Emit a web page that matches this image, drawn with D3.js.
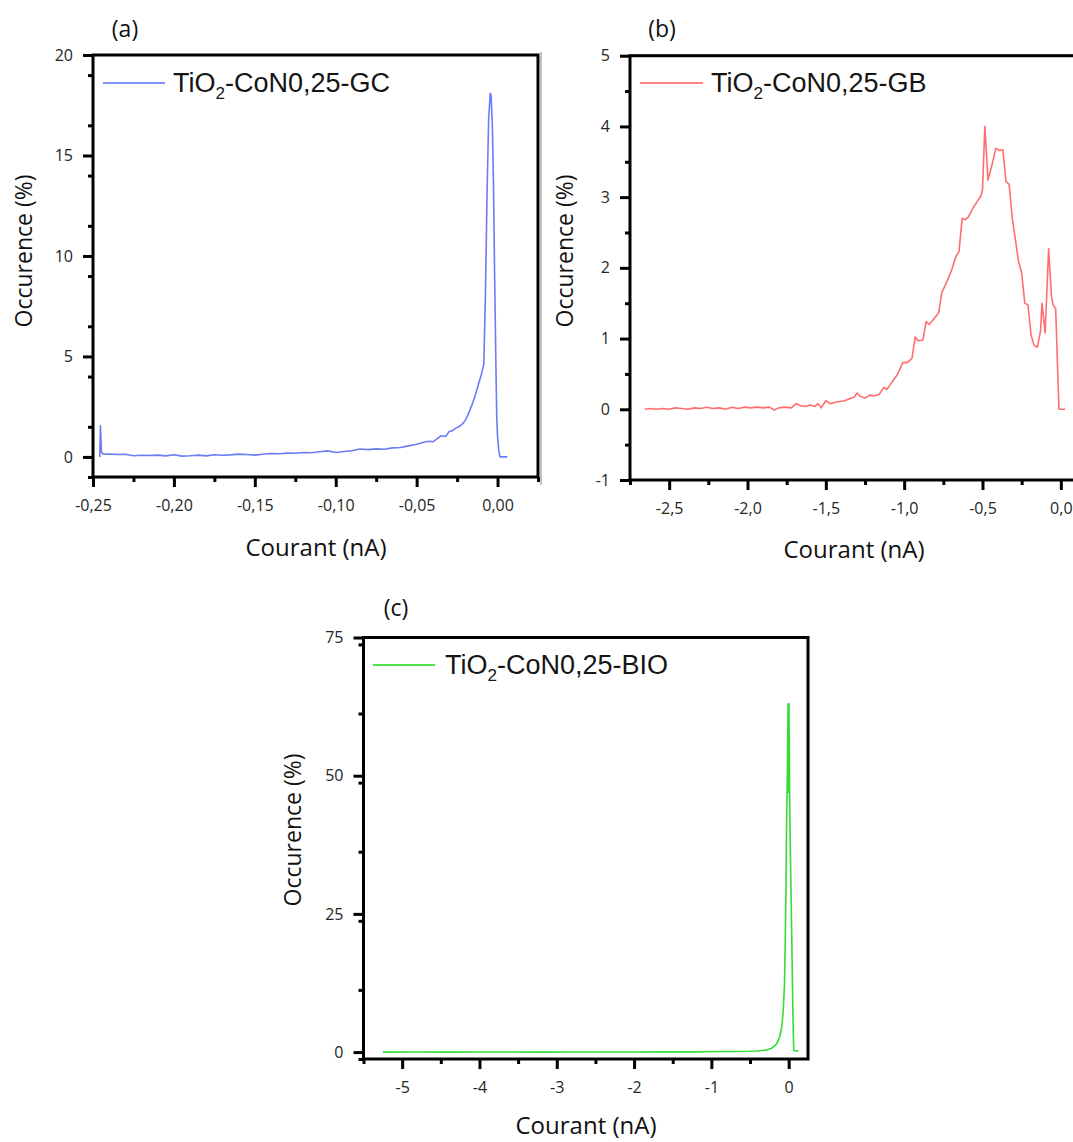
<!DOCTYPE html>
<html><head><meta charset="utf-8">
<script src="https://cdn.jsdelivr.net/npm/d3@7"></script>
<style>
html,body{margin:0;padding:0;background:#fff;overflow:hidden}
svg{display:block}
</style></head>
<body>
<svg id="c" width="1073" height="1142"></svg>
<script>
// ---------- data ----------
const xA = [-0.2458,-0.2454,-0.2448,-0.2440,-0.2400,-0.2350,-0.2300,-0.2250,-0.2200,-0.2150,-0.2100,-0.2050,-0.2000,-0.1950,-0.1900,-0.1850,-0.1800,-0.1750,-0.1700,-0.1650,-0.1600,-0.1550,-0.1500,-0.1450,-0.1400,-0.1350,-0.1300,-0.1250,-0.1200,-0.1150,-0.1100,-0.1050,-0.1000,-0.0950,-0.0900,-0.0850,-0.0800,-0.0750,-0.0700,-0.0650,-0.0600,-0.0550,-0.0500,-0.0450,-0.0420,-0.0400,-0.0370,-0.0350,-0.0320,-0.0300,-0.0280,-0.0260,-0.0240,-0.0220,-0.0200,-0.0180,-0.0160,-0.0140,-0.0120,-0.0100,-0.0085,-0.0075,-0.0065,-0.0055,-0.0045,-0.0040,-0.0032,-0.0025,-0.0018,-0.0010,-0.0005,0.0000,0.0008,0.0015,0.0035,0.0060];
const yA = [0.00,1.55,0.25,0.15,0.14,0.12,0.13,0.06,0.08,0.07,0.09,0.05,0.11,0.04,0.06,0.09,0.05,0.11,0.08,0.10,0.14,0.12,0.09,0.13,0.17,0.16,0.19,0.18,0.22,0.21,0.26,0.30,0.22,0.27,0.31,0.39,0.36,0.40,0.38,0.45,0.47,0.55,0.63,0.74,0.78,0.75,0.92,1.05,1.02,1.25,1.30,1.42,1.50,1.62,1.80,2.15,2.55,3.00,3.55,4.10,4.60,8.00,13.0,16.8,18.1,18.0,16.5,13.5,9.0,4.5,2.0,1.0,0.3,0.0,0.0,0.0];

const xB = [-2.656,-2.62,-2.58,-2.54,-2.50,-2.46,-2.42,-2.38,-2.34,-2.30,-2.26,-2.22,-2.18,-2.14,-2.10,-2.06,-2.02,-1.98,-1.94,-1.90,-1.86,-1.83,-1.80,-1.76,-1.72,-1.69,-1.66,-1.63,-1.60,-1.57,-1.55,-1.53,-1.50,-1.47,-1.44,-1.41,-1.38,-1.35,-1.32,-1.30,-1.28,-1.25,-1.22,-1.19,-1.16,-1.13,-1.11,-1.08,-1.05,-1.03,-1.01,-0.98,-0.95,-0.93,-0.91,-0.88,-0.86,-0.84,-0.81,-0.78,-0.76,-0.73,-0.70,-0.67,-0.65,-0.63,-0.61,-0.59,-0.56,-0.53,-0.51,-0.50,-0.485,-0.465,-0.44,-0.415,-0.39,-0.37,-0.35,-0.33,-0.31,-0.29,-0.27,-0.25,-0.23,-0.21,-0.19,-0.17,-0.15,-0.13,-0.12,-0.10,-0.078,-0.06,-0.05,-0.033,-0.012,0.028];
const yB = [0.00,0.01,0.00,0.01,0.00,0.02,0.01,0.00,0.02,0.01,0.03,0.01,0.02,0.00,0.03,0.01,0.03,0.02,0.03,0.02,0.03,-0.01,0.02,0.03,0.02,0.08,0.05,0.04,0.06,0.04,0.08,0.02,0.12,0.08,0.10,0.11,0.12,0.15,0.17,0.23,0.18,0.16,0.20,0.19,0.21,0.31,0.28,0.38,0.47,0.55,0.66,0.66,0.72,1.02,0.97,0.98,1.24,1.20,1.28,1.36,1.65,1.79,1.95,2.16,2.23,2.70,2.68,2.72,2.85,2.95,3.02,3.10,4.00,3.24,3.45,3.69,3.66,3.67,3.22,3.18,2.70,2.40,2.09,1.93,1.50,1.48,1.05,0.90,0.88,1.10,1.50,1.08,2.27,1.60,1.48,1.42,0.00,0.00];

const xC = [-5.25,-4.8,-4.4,-4.0,-3.6,-3.2,-2.8,-2.4,-2.0,-1.6,-1.2,-0.9,-0.7,-0.5,-0.4,-0.3,-0.22,-0.16,-0.12,-0.09,-0.07,-0.055,-0.045,-0.035,-0.028,-0.02,-0.012,-0.008,-0.004,0.0,0.004,0.012,0.022,0.034,0.045,0.055,0.065,0.13];
const yC = [0.00,0.01,0.00,0.01,0.01,0.00,0.01,0.02,0.02,0.03,0.04,0.10,0.12,0.15,0.20,0.35,0.70,1.40,2.60,4.50,7.50,12.0,19.0,30.0,40.0,47.0,57.0,63.0,47.0,60.0,63.0,47.0,36.0,26.0,16.0,7.0,0.3,0.2];

const ticksAx = [-0.25,-0.20,-0.15,-0.10,-0.05,0.00];
const ticksAy = [0,5,10,15,20];
const ticksBx = [-2.5,-2.0,-1.5,-1.0,-0.5,0.0];
const ticksBy = [-1,0,1,2,3,4,5];
const ticksCx = [-5,-4,-3,-2,-1,0];
const ticksCy = [0,25,50,75];

const legendA = ["TiO","2","-CoN0,25-GC"];
const legendB = ["TiO","2","-CoN0,25-GB"];
const legendC = ["TiO","2","-CoN0,25-BIO"];
const xTitle = "Courant (nA)";
const yTitle = "Occurence (%)";

// ---------- drawing ----------
const svg = d3.select("#c");
const FONT = "'Open Sans', sans-serif";

function fmtDec(n){ return d => (d < -1e-9 ? "-" : "") + Math.abs(d).toFixed(n).replace(".", ","); }
function fmtInt(d){ return (d < 0 ? "-" : "") + Math.abs(d); }

// gray separator line (left edge of panel b image)
svg.append("line").attr("x1",541).attr("x2",541).attr("y1",52).attr("y2",485)
  .attr("stroke","#9a9a9a").attr("stroke-width",1.2);

function panel(cfg){
  const x = d3.scaleLinear().domain(cfg.xDom).range(cfg.xRange);
  const y = d3.scaleLinear().domain(cfg.yDom).range(cfg.yRange);
  const g = svg.append("g");
  const x0 = cfg.xRange[0], x1 = cfg.xRange[1], y0 = cfg.yRange[1], y1 = cfg.yRange[0];

  // minor ticks
  const xMinor = d3.range(cfg.xDom[0], cfg.xDom[1] + 1e-9, cfg.xStep/2).filter(v => !cfg.xTicks.some(t => Math.abs(t - v) < 1e-9));
  const yMinor = d3.range(cfg.yDom[0], cfg.yDom[1] + 1e-9, cfg.yStep/2).filter(v => !cfg.yTicks.some(t => Math.abs(t - v) < 1e-9));
  const xa = g.append("g").attr("transform", `translate(0,${y1})`)
    .call(d3.axisBottom(x).tickValues(cfg.xTicks).tickFormat(cfg.fx).tickSize(10).tickPadding(13).tickSizeOuter(0));
  const xm = g.append("g").attr("transform", `translate(0,${y1})`)
    .call(d3.axisBottom(x).tickValues(xMinor).tickFormat("").tickSize(5).tickSizeOuter(0));
  const ya = g.append("g").attr("transform", `translate(${x0},0)`)
    .call(d3.axisLeft(y).tickValues(cfg.yTicks).tickFormat(cfg.fy).tickSize(10).tickPadding(10).tickSizeOuter(0));
  const ym = g.append("g").attr("transform", `translate(${x0},0)`)
    .call(d3.axisLeft(y).tickValues(yMinor).tickFormat("").tickSize(5).tickSizeOuter(0));
  [xa,xm,ya,ym].forEach(a => {
    a.select(".domain").remove();
    a.selectAll(".tick line").attr("stroke","#000").attr("stroke-width",3);
    a.selectAll(".tick text").attr("font-family",FONT).attr("font-size",16).attr("fill","#262626");
  });

  // curve
  const pts = cfg.xs.map((v,i) => [v, cfg.ys[i]]);
  g.append("path").datum(pts)
    .attr("d", d3.line().x(d => x(d[0])).y(d => y(d[1])))
    .attr("fill","none").attr("stroke",cfg.color).attr("stroke-width",1.6).attr("stroke-linejoin","round");

  // frame
  g.append("rect").attr("x",x0).attr("y",y0).attr("width",x1-x0).attr("height",y1-y0)
    .attr("fill","none").attr("stroke","#000").attr("stroke-width",3);

  // legend
  g.append("line").attr("x1",cfg.leg[0]).attr("x2",cfg.leg[1]).attr("y1",cfg.leg[2]).attr("y2",cfg.leg[2])
    .attr("stroke",cfg.color).attr("stroke-width",1.8).attr("opacity",0.85);
  const lt = g.append("text").attr("x",cfg.leg[3]).attr("y",cfg.leg[2]+9)
    .attr("font-family","'Liberation Sans', Arial, sans-serif").attr("font-size",27).attr("fill","#151515");
  lt.append("tspan").text(cfg.legText[0]);
  lt.append("tspan").attr("font-size",17).attr("dy",7).text(cfg.legText[1]);
  lt.append("tspan").attr("dy",-7).text(cfg.legText[2]);

  // panel label
  g.append("text").attr("x",cfg.lab[0]).attr("y",cfg.lab[1]).attr("text-anchor","middle")
    .attr("font-family",FONT).attr("font-size",23).attr("fill","#111").text(cfg.label);

  // axis titles
  g.append("text").attr("x",cfg.xt[0]).attr("y",cfg.xt[1]).attr("text-anchor","middle")
    .attr("font-family",FONT).attr("font-size",24).attr("fill","#111").text(xTitle);
  g.append("text").attr("transform",`translate(${cfg.yt[0]},${cfg.yt[1]}) rotate(-90)`).attr("text-anchor","middle")
    .attr("font-family",FONT).attr("font-size",23).attr("fill","#111").text(yTitle);
}

panel({xDom:[-0.25,0.025], xRange:[93,538], yDom:[-1,20], yRange:[477,55],
  xTicks:ticksAx, yTicks:ticksAy, xStep:0.05, yStep:5, fx:fmtDec(2), fy:fmtInt,
  xs:xA, ys:yA, color:"#6b7cf7", leg:[103,165,83,173], legText:legendA,
  label:"(a)", lab:[125,37], xt:[316,556], yt:[32,251]});

panel({xDom:[-2.75,0.25], xRange:[630,1100], yDom:[-1,5], yRange:[480,55.7],
  xTicks:ticksBx, yTicks:ticksBy, xStep:0.5, yStep:1, fx:fmtDec(1), fy:fmtInt,
  xs:xB, ys:yB, color:"#ff6e6e", leg:[640,703,83,711], legText:legendB,
  label:"(b)", lab:[662,37], xt:[854,558], yt:[573,251]});

panel({xDom:[-5.5,0.25], xRange:[363.5,808], yDom:[-1.25,75], yRange:[1059,637.5],
  xTicks:ticksCx, yTicks:ticksCy, xStep:1, yStep:25, fx:fmtInt, fy:fmtInt,
  xs:xC, ys:yC, color:"#34dd34", leg:[373,435,665,445], legText:legendC,
  label:"(c)", lab:[396,616], xt:[586,1134], yt:[301,830]});
</script>
</body></html>
